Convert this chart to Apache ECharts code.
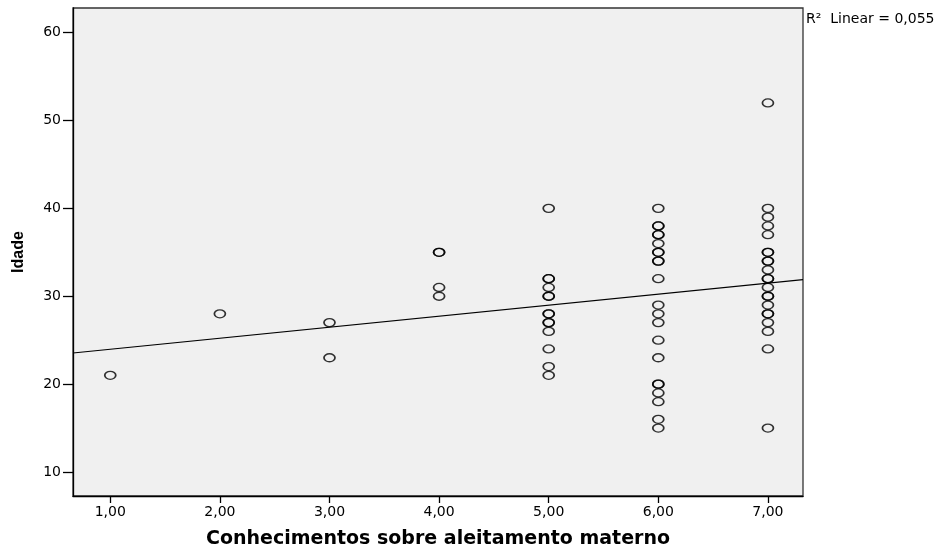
<!DOCTYPE html>
<html>
<head>
    <meta charset="utf-8">
    <style>
        body { margin: 0; background-color: #fff; }
        #main { width: 935px; height: 549px; }
    </style>
    <script src="https://cdn.jsdelivr.net/npm/echarts@6/dist/echarts.min.js"></script>
</head>
<body>
    <div id="main"></div>
    <script type="text/javascript">
        // conhecimento score -> list of ages (duplicates = overlapping circles)
        var idade1 = [21];
        var idade2 = [28];
        var idade3 = [27, 23];
        var idade4 = [35, 35, 31, 30];
        var idade5 = [40, 32, 32, 31, 30, 30, 28, 28, 27, 27, 26, 24, 22, 21];
        var idade6 = [40, 38, 38, 37, 37, 36, 35, 35, 34, 34, 32, 29, 28, 27, 25, 23, 20, 20, 19, 18, 16, 15];
        var idade7 = [52, 40, 39, 38, 37, 35, 35, 34, 34, 33, 32, 32, 31, 30, 30, 29, 28, 28, 27, 26, 24, 15];

        var xTicks = [1, 2, 3, 4, 5, 6, 7];
        var yTicks = [10, 20, 30, 40, 50, 60];

        // fit line end points
        var fitX = [0.66, 7.32];
        var fitY = [23.54, 31.9];

        var groups = [idade1, idade2, idade3, idade4, idade5, idade6, idade7];
        var points = [];
        for (var g = 0; g < groups.length; g++) {
            for (var k = 0; k < groups[g].length; k++) {
                points.push([xTicks[g], groups[g][k]]);
            }
        }
        var fitLine = [[fitX[0], fitY[0]], [fitX[1], fitY[1]]];

        var myChart = echarts.init(document.getElementById('main'));

        var option = {
            animation: false,
            grid: {
                left: 73,
                top: 8,
                right: 132,
                bottom: 53,
                outerBoundsMode: 'none',
                containLabel: false,
                show: true,
                backgroundColor: '#f0f0f0',
                borderColor: '#333',
                borderWidth: 1.3
            },
            xAxis: {
                type: 'value',
                min: 0.66,
                max: 7.32,
                name: 'Conhecimentos sobre aleitamento materno',
                nameLocation: 'middle',
                nameGap: 34,
                nameTextStyle: {
                    fontFamily: 'DejaVu Sans',
                    fontWeight: 'bold',
                    fontSize: 19,
                    color: '#000'
                },
                splitLine: { show: false },
                axisLine: { lineStyle: { color: '#000', width: 1.3 } },
                axisTick: {
                    customValues: xTicks,
                    length: 7,
                    lineStyle: { color: '#000', width: 1.3 }
                },
                axisLabel: {
                    customValues: xTicks,
                    margin: 9,
                    fontFamily: 'DejaVu Sans',
                    fontSize: 14,
                    color: '#000',
                    formatter: function (v) {
                        return v.toFixed(2).replace('.', ',');
                    }
                }
            },
            yAxis: {
                type: 'value',
                min: 7.27,
                max: 62.8,
                name: 'Idade',
                nameLocation: 'middle',
                nameGap: 46,
                nameRotate: 90,
                nameTextStyle: {
                    fontFamily: 'Liberation Sans, Arial, sans-serif',
                    fontWeight: 'bold',
                    fontSize: 16,
                    color: '#000'
                },
                splitLine: { show: false },
                axisLine: { show: true, lineStyle: { color: '#000', width: 1.3 } },
                axisTick: {
                    show: true,
                    customValues: yTicks,
                    length: 10,
                    lineStyle: { color: '#000', width: 1.3 }
                },
                axisLabel: {
                    customValues: yTicks,
                    margin: 12,
                    fontFamily: 'DejaVu Sans',
                    fontSize: 14,
                    color: '#000'
                }
            },
            graphic: [
                {
                    type: 'text',
                    left: 806,
                    top: 12,
                    style: {
                        text: 'R\u00B2  Linear = 0,055',
                        fontFamily: 'DejaVu Sans',
                        fontSize: 14,
                        fill: '#000'
                    }
                }
            ],
            series: [
                {
                    type: 'line',
                    data: fitLine,
                    symbol: 'none',
                    silent: true,
                    lineStyle: { color: '#000', width: 1.2 },
                    z: 1
                },
                {
                    type: 'scatter',
                    data: points,
                    symbol: 'circle',
                    symbolSize: [11, 8],
                    itemStyle: {
                        color: 'rgba(0,0,0,0)',
                        borderColor: '#000',
                        borderWidth: 1.5
                    },
                    z: 2
                }
            ]
        };

        myChart.setOption(option);
    </script>
</body>
</html>
